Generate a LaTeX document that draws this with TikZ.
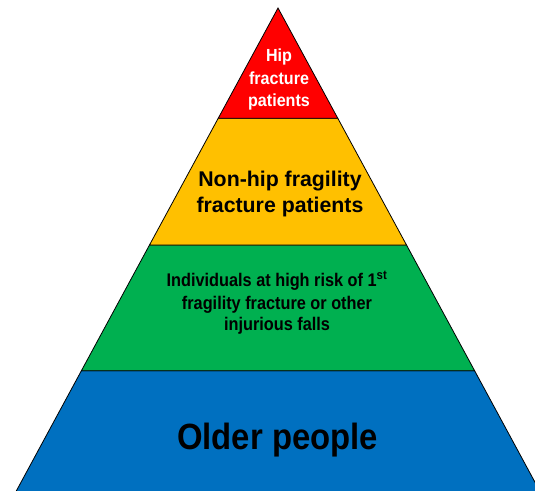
\documentclass[tikz,border=0pt]{standalone}
\usepackage{fontspec}
\setmainfont{Liberation Sans}
\definecolor{tred}{HTML}{FF0000}
\definecolor{tyellow}{HTML}{FFC000}
\definecolor{tgreen}{HTML}{00B050}
\definecolor{tblue}{HTML}{0070C0}
\newcommand{\pyrfont}[2]{\fontsize{#1}{#1}\selectfont\bfseries\addfontfeature{FakeStretch=#2}}
\begin{document}
\begin{tikzpicture}[x=1pt,y=-1pt,
  tier/.style={draw=black, line width=0.8pt, line join=miter},
  lbl/.style={anchor=base, inner sep=0pt, outer sep=0pt},
  hiplbl/.style={lbl, text=white, font=\pyrfont{17.5pt}{0.92}},
  nonhiplbl/.style={lbl, text=black, font=\pyrfont{21.3pt}{1.0}},
  riskl/.style={lbl, text=black, font=\pyrfont{18.3pt}{0.89}},
  olderlbl/.style={lbl, text=black, font=\pyrfont{36.5pt}{0.9}}]
\useasboundingbox (0,0) rectangle (535,490);
\clip (0,0) rectangle (535,490);
% tiers (apex (278,8), half-width 0.542*(y-8))
\coordinate (apex) at (278,8);
\coordinate (l1) at (218.2,118.3); \coordinate (r1) at (337.8,118.3);
\coordinate (l2) at (149.5,245);   \coordinate (r2) at (406.5,245);
\coordinate (l3) at (81.4,370.7);  \coordinate (r3) at (474.6,370.7);
\coordinate (l4) at (11.4,500);    \coordinate (r4) at (544.6,500);
\filldraw[tier, fill=tblue]   (l3) -- (r3) -- (r4) -- (l4) -- cycle;
\filldraw[tier, fill=tgreen]  (l2) -- (r2) -- (r3) -- (l3) -- cycle;
\filldraw[tier, fill=tyellow] (l1) -- (r1) -- (r2) -- (l2) -- cycle;
\filldraw[tier, fill=tred]    (apex) -- (r1) -- (l1) -- cycle;
% labels
\node[hiplbl] (hipa) at (279,61.7) {Hip};
\node[hiplbl] (hipb) at (279,84.5) {fracture};
\node[hiplbl] (hipc) at (279,106) {patients};
\node[nonhiplbl] (nha) at (280,186) {Non-hip fragility};
\node[nonhiplbl] (nhb) at (280,212.7) {fracture patients};
\node[riskl] (ra) at (277,286) {Individuals at high risk of 1\textsuperscript{st}};
\node[riskl] (rb) at (277,309.3) {fragility fracture or other};
\node[riskl] (rc) at (277,330.7) {injurious falls};
\node[olderlbl] (old) at (277.5,449.3) {Older people};
\end{tikzpicture}
\end{document}
